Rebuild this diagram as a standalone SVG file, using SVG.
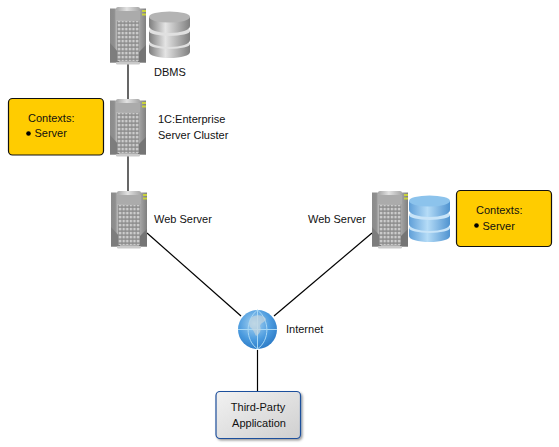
<svg xmlns="http://www.w3.org/2000/svg" width="559" height="447" viewBox="0 0 559 447">
<style>
text{font-family:"Liberation Sans",Arial,sans-serif;font-size:11px;fill:#111}
.c{stroke:#000;stroke-width:1.2;fill:none}
.box{fill:#ffcc00;stroke:#111;stroke-width:1.2}
</style>
<defs>
<linearGradient id="sb" x1="0" x2="1" y1="0" y2="0"><stop offset="0" stop-color="#8b8b8b"/><stop offset=".12" stop-color="#8f8f8f"/><stop offset=".18" stop-color="#b5b5b5"/><stop offset=".8" stop-color="#a8a8a8"/><stop offset="1" stop-color="#7f7f7f"/></linearGradient>
<linearGradient id="st" x1="0" x2="1" y1="0" y2="0"><stop offset="0" stop-color="#a5a5a5"/><stop offset=".45" stop-color="#e2e2e2"/><stop offset="1" stop-color="#a5a5a5"/></linearGradient>
<linearGradient id="cg" x1="0" x2="1" y1="0" y2="0"><stop offset="0" stop-color="#7d7d7d"/><stop offset=".4" stop-color="#e4e4e4"/><stop offset="1" stop-color="#7f7f7f"/></linearGradient>
<linearGradient id="cb" x1="0" x2="1" y1="0" y2="0"><stop offset="0" stop-color="#5f9fd8"/><stop offset=".45" stop-color="#b5dcf7"/><stop offset="1" stop-color="#4f93d0"/></linearGradient>
<radialGradient id="gl" cx=".42" cy=".35" r=".7"><stop offset="0" stop-color="#a8d4f2"/><stop offset=".6" stop-color="#4a9ade"/><stop offset="1" stop-color="#2a78c4"/></radialGradient>
<linearGradient id="ap" x1="0" x2="1" y1="0" y2="1"><stop offset="0" stop-color="#f2f2f2"/><stop offset="1" stop-color="#cfcfcf"/></linearGradient>
<pattern id="grid" x="0" y="0" width="3.600" height="4" patternUnits="userSpaceOnUse"><rect width="3.600" height="4" fill="#8a8a8a"/><rect x=".7" y=".8" width="2.400" height="2.600" fill="#cdcdcd"/></pattern>
<filter id="sh" x="-10%" y="-10%" width="125%" height="130%"><feDropShadow dx="1.500" dy="1.500" stdDeviation="1.200" flood-color="#000" flood-opacity=".4"/></filter>
<symbol id="server" width="36" height="58" viewBox="0 0 36 58">
<rect x="0" y="1.500" width="36" height="54" fill="url(#sb)"/>
<path d="M0 36L9 46V55.500H0Z" fill="#7d7d7d"/>
<path d="M36 38L28 46V55.500H36Z" fill="#757575"/>
<rect x="6" y="0" width="24" height="4" rx="2" fill="url(#st)"/>
<rect x="6" y="55" width="24" height="2.500" rx="1.200" fill="#c9c9c9"/>
<rect x="6" y="4" width="24" height="9" fill="#ababab"/>
<rect x="7" y="14" width="22" height="40" fill="url(#grid)"/>
<rect x="32" y="3" width="4" height="2" fill="#c8d23c"/>
<rect x="32" y="6.500" width="4" height="2" fill="#c8d23c"/>
</symbol>
<symbol id="cyl-g" width="41" height="47" viewBox="0 0 41 47">
<path d="M0 33V41C0 44.500 9 47 20.500 47S41 44.500 41 41V33Z" fill="url(#cg)"/>
<ellipse cx="20.500" cy="33" rx="20.500" ry="5" fill="#e0e0e0"/>
<path d="M0 20V29C0 33 9 36 20.500 36S41 33 41 29V20Z" fill="url(#cg)"/>
<ellipse cx="20.500" cy="20" rx="20.500" ry="5" fill="#e0e0e0"/>
<path d="M0 6V15C0 19 9 22 20.500 22S41 19 41 15V6Z" fill="url(#cg)"/>
<ellipse cx="20.500" cy="6" rx="20.500" ry="5.500" fill="#b4b4b4"/>
</symbol>
<symbol id="cyl-b" width="41" height="47" viewBox="0 0 41 47">
<path d="M0 33V41C0 44.500 9 47 20.500 47S41 44.500 41 41V33Z" fill="url(#cb)"/>
<ellipse cx="20.500" cy="33" rx="20.500" ry="5" fill="#c8e4f8"/>
<path d="M0 20V29C0 33 9 36 20.500 36S41 33 41 29V20Z" fill="url(#cb)"/>
<ellipse cx="20.500" cy="20" rx="20.500" ry="5" fill="#c8e4f8"/>
<path d="M0 6V15C0 19 9 22 20.500 22S41 19 41 15V6Z" fill="url(#cb)"/>
<ellipse cx="20.500" cy="6" rx="20.500" ry="5.500" fill="#8cc3ec"/>
</symbol>
</defs>
<g id="connectors">
<path class="c" d="M128 64V99"/>
<path class="c" d="M128 156V191"/>
<path class="c" d="M147 233L241 316"/>
<path class="c" d="M372 233L274 316"/>
<path class="c" d="M257.500 350V391"/>
</g>
<g id="dbms"><use href="#server" x="110" y="7"/><use href="#cyl-g" x="149" y="11"/><text x="154" y="76">DBMS</text></g>
<g id="cluster"><use href="#server" x="110" y="99"/><text x="158" y="123">1C:Enterprise</text><text x="158" y="139">Server Cluster</text></g>
<g id="contexts-left"><rect class="box" x="8.500" y="98.500" width="95" height="56.500" rx="4"/><text x="28" y="122">Contexts:</text><circle cx="28.500" cy="133.500" r="2.300" fill="#000"/><text x="34.500" y="137">Server</text></g>
<g id="web-left"><use href="#server" x="111" y="191"/><text x="154" y="223">Web Server</text></g>
<g id="web-right"><use href="#server" x="372" y="191"/><use href="#cyl-b" x="409" y="195"/><text x="308" y="223">Web Server</text></g>
<g id="contexts-right"><rect class="box" x="456.500" y="190.500" width="95" height="56" rx="4"/><text x="476" y="214">Contexts:</text><circle cx="476.500" cy="225.500" r="2.300" fill="#000"/><text x="482.500" y="229.500">Server</text></g>
<g id="internet"><circle cx="257.500" cy="329.500" r="19.500" fill="url(#gl)"/><path d="M238 329.500H277M257.500 310V349M257.500 310C245 320 245 340 257.500 349M257.500 310C270 320 270 340 257.500 349" fill="none" stroke="#a8d8f5" stroke-width="1"/><path d="M252 317c5-3 12-2 14 2c-1 4-5 3-6 7c2 4-1 9-4 10c-2-4-3-7-6-9c-2-4 0-7 2-10z" fill="#cfd8dc" opacity=".6"/><text x="286" y="333">Internet</text></g>
<g id="third-party"><rect x="216" y="391.500" width="84.500" height="47" rx="4" fill="url(#ap)" stroke="#1f4f9c" stroke-width="1.200" filter="url(#sh)"/><text x="258" y="411" text-anchor="middle">Third-Party</text><text x="259" y="427" text-anchor="middle">Application</text></g>
</svg>
